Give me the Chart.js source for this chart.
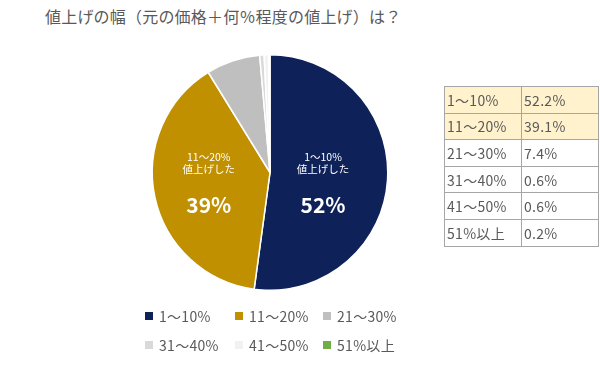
<!DOCTYPE html>
<html><head><meta charset="utf-8">
<script src="https://cdn.jsdelivr.net/npm/chart.js@4"></script>
<style>
html,body{margin:0;padding:0;background:#fff;}
body{width:600px;height:367px;position:relative;overflow:hidden;font-family:"Noto Sans CJK JP","Noto Sans",sans-serif;color:#595959;}
#title{position:absolute;left:45px;top:4px;font-size:16px;letter-spacing:0.2px;white-space:nowrap;}
#wrap{position:absolute;left:0;top:0;width:600px;height:367px;}
#tbl{position:absolute;left:444px;top:86px;border-collapse:collapse;font-size:14px;}
#tbl td{border:1px solid #a6a6a6;height:26.6px;padding:0 0 0 2px;box-sizing:border-box;line-height:1;letter-spacing:0.3px;}
#tbl td.c1{width:77px;} #tbl td.c2{width:77px;}
#tbl tr.hl td{background:#fff2cc;}
#legend{position:absolute;left:145px;top:306px;width:290px;font-size:14px;}
.li{position:absolute;white-space:nowrap;display:flex;align-items:center;letter-spacing:0.3px;}
.li i{display:inline-block;width:8px;height:8px;margin-right:6px;}
</style></head>
<body>
<div id="title">値上げの幅（元の価格＋何％程度の値上げ）は？</div>
<div id="wrap"><canvas id="c" width="600" height="367"></canvas></div>
<table id="tbl"></table>
<div id="legend"></div>
<script>
const categories = ["1〜10%","11〜20%","21〜30%","31〜40%","41〜50%","51%以上"];
const values = [52.2,39.1,7.4,0.6,0.6,0.2];
const tableValues = ["52.2%","39.1%","7.4%","0.6%","0.6%","0.2%"];
const sliceLabels = [["1〜10%","値上げした","52%"],["11〜20%","値上げした","39%"]];
const colors = ["#0e2159","#c09000","#bfbfbf","#d9d9d9","#f2f2f2","#70ad47"];

// table
const tbl=document.getElementById('tbl');
categories.forEach((c,i)=>{
  const tr=document.createElement('tr'); if(i<2) tr.className='hl';
  tr.innerHTML='<td class="c1">'+c+'</td><td class="c2">'+tableValues[i]+'</td>';
  tbl.appendChild(tr);
});

const labelOffsets=[0.45,-0.52];
const labelPlugin={id:'lbl',afterDatasetsDraw(chart){
  const ctx=chart.ctx; const meta=chart.getDatasetMeta(0);
  sliceLabels.forEach((lines,i)=>{
    const arc=meta.data[i]; const cx=arc.x, cy=arc.y, r=arc.outerRadius;
    const x=cx+labelOffsets[i]*r;
    ctx.save(); ctx.fillStyle='#fff'; ctx.textAlign='center'; ctx.textBaseline='middle';
    ctx.font='10.5px "Noto Sans CJK JP"';
    ctx.fillText(lines[0],x,cy-15);
    ctx.fillText(lines[1],x,cy-3);
    ctx.font='bold 21px "Noto Sans CJK JP"';
    ctx.fillText(lines[2],x,cy+33);
    ctx.restore();
  });
}};

const chart=new Chart(document.getElementById('c'),{
  type:'pie',
  data:{labels:categories,datasets:[{data:values,backgroundColor:colors,borderColor:'#fff',borderWidth:1.5}]},
  options:{responsive:false,animation:false,
    layout:{padding:{left:151,right:211,top:54,bottom:76}},
    plugins:{legend:{display:false},tooltip:{enabled:false}}},
  plugins:[labelPlugin]
});

// legend built from chart data
const lg=document.getElementById('legend');
const pos=[[0,0],[90,0],[178,0],[0,29],[90,29],[178,29]];
chart.data.labels.forEach((l,i)=>{
  const d=document.createElement('div'); d.className='li';
  d.style.left=pos[i][0]+'px'; d.style.top=pos[i][1]+'px';
  d.innerHTML='<i style="background:'+colors[i]+'"></i>'+l;
  lg.appendChild(d);
});
</script>
</body></html>
